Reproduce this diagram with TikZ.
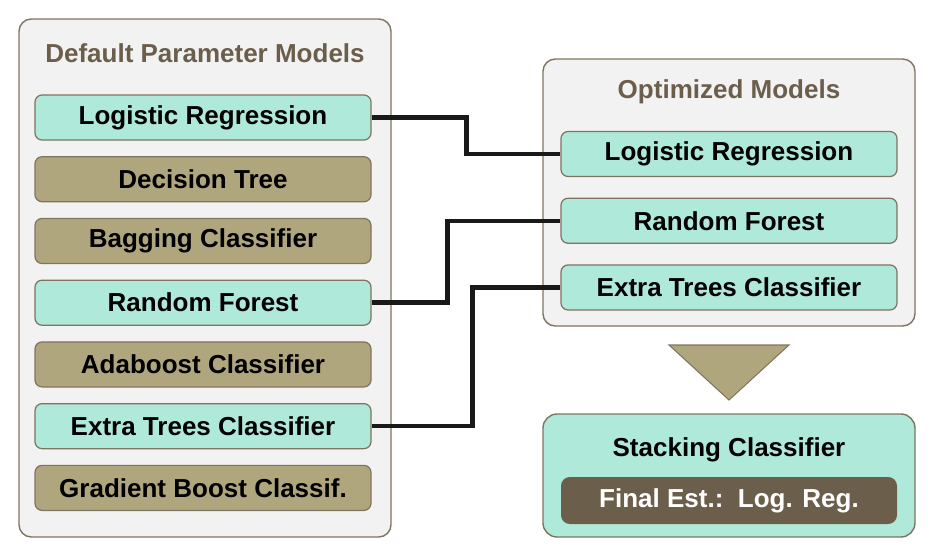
\documentclass[tikz,border=0pt]{standalone}
\usepackage{fontspec}
\setmainfont{Liberation Sans}
\usetikzlibrary{positioning,calc}
\definecolor{edge}{HTML}{7F7461}
\definecolor{pnl}{HTML}{F2F2F2}
\definecolor{mint}{HTML}{AFE9DA}
\definecolor{tan}{HTML}{B0A67E}
\definecolor{dk}{HTML}{6B5E4A}
\tikzset{
  panel/.style={draw=edge,fill=pnl,line width=0.8pt,rounded corners=7pt},
  mbox/.style={draw=edge,line width=0.7pt,rounded corners=4pt,minimum width=6.72cm,minimum height=0.9cm,
    inner sep=0pt,font=\bfseries\fontsize{14.8}{16}\selectfont},
  tbox/.style={mbox,fill=mint},
  gbox/.style={mbox,fill=tan},
  ttl/.style={font=\bfseries\fontsize{14.8}{16}\selectfont,text=dk},
  ln/.style={line width=2.5pt,draw=black!90},
}

\begin{document}
\begin{tikzpicture}
\useasboundingbox (0,0) rectangle (18.7,-11.14);
% panels
\draw[panel] (0.38,-0.38) rectangle (7.82,-10.74);
\draw[panel] (10.86,-1.18) rectangle (18.3,-6.52);
\node[ttl] (dTitle) at (4.1,-1.06) {Default Parameter Models};
\node[ttl] (oTitle) at (14.58,-1.84) {Optimized Models};
% default models
\begin{scope}[node distance=0.31cm]
\node[tbox] (dLR) at (4.06,-2.35) {Logistic Regression};
\node[gbox,below=of dLR] (dDT) {Decision Tree};
\node[gbox,below=of dDT] (dBC) {Bagging Classifier};
\node[tbox,below=of dBC] (dRF) {Random Forest};
\node[gbox,below=of dRF] (dAB) {Adaboost Classifier};
\node[tbox,below=of dAB] (dET) {Extra Trees Classifier};
\node[gbox,below=of dET] (dGB) {Gradient Boost Classif.};
\end{scope}
% optimized models
\begin{scope}[node distance=0.41cm]
\node[tbox] (oLR) at (14.58,-3.08) {Logistic Regression};
\node[tbox,below=of oLR] (oRF) {Random Forest};
\node[tbox,below=of oRF] (oET) {Extra Trees Classifier};
\end{scope}
% links
\draw[ln] (dLR.east) -- ++(1.9,0) |- (oLR.west);
\draw[ln] (dRF.east) -- ++(1.52,0) |- (oRF.west);
\draw[ln] (dET.east) -- ++(2.02,0) |- (oET.west);
% arrow down
\draw[draw=edge,fill=tan,line width=0.6pt] (13.38,-6.9) -- (15.78,-6.9) -- (14.58,-8.0) -- cycle;
% stacking
\draw[draw=edge,fill=mint,line width=0.8pt,rounded corners=8pt] (10.86,-8.28) rectangle (18.3,-10.74);
\node[font=\bfseries\fontsize{14.8}{16}\selectfont] (stk) at (14.58,-9.0) {Stacking Classifier};
\node[mbox,draw=none,fill=dk,text=white,minimum height=0.94cm,rounded corners=5pt] (fin) at (14.58,-10.01) {Final Est.:\ \ Log. Reg.};
\end{tikzpicture}
\end{document}
